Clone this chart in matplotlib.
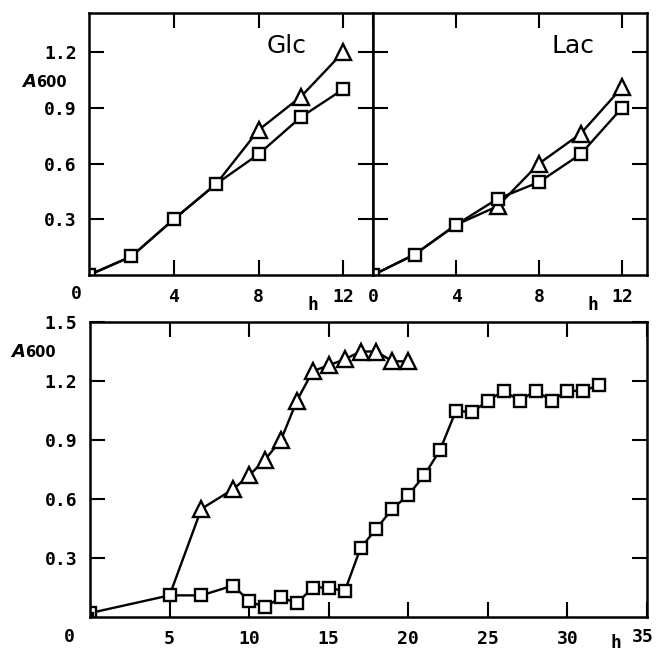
import matplotlib
matplotlib.use('Agg')
import matplotlib.pyplot as plt

# top panels, growth on glucose / lactose
glc_h = [0, 2, 4, 6, 8, 10, 12]
glc_sq = [0.0, 0.10, 0.30, 0.49, 0.65, 0.85, 1.00]
glc_tri = [0.0, 0.10, 0.30, 0.49, 0.78, 0.96, 1.20]

lac_h = [0, 2, 4, 6, 8, 10, 12]
lac_sq = [0.0, 0.11, 0.27, 0.41, 0.50, 0.65, 0.90]
lac_tri = [0.0, 0.11, 0.27, 0.37, 0.60, 0.76, 1.01]

# bottom panel, long culture
sq_h = [0, 5, 7, 9, 10, 11, 12, 13, 14, 15, 16, 17, 18, 19, 20, 21, 22, 23,
        24, 25, 26, 27, 28, 29, 30, 31, 32]
sq_a = [0.02, 0.11, 0.11, 0.16, 0.08, 0.05, 0.10, 0.07, 0.15, 0.15, 0.13, 0.35,
        0.45, 0.55, 0.62, 0.72, 0.85, 1.05, 1.04, 1.10, 1.15, 1.10, 1.15, 1.10,
        1.15, 1.15, 1.18]
tri_h = [5, 7, 9, 10, 11, 12, 13, 14, 15, 16, 17, 18, 19, 20]
tri_a = [0.11, 0.55, 0.65, 0.72, 0.80, 0.90, 1.10, 1.25, 1.28, 1.31, 1.35,
         1.35, 1.30, 1.30]

W, H = 656, 654
TICKFONT = dict(family='DejaVu Sans Mono', weight='bold', size=13)

fig = plt.figure(figsize=(W / 100, H / 100), dpi=100)


def px_axes(x0, y0, x1, y1):
    return fig.add_axes([x0 / W, 1 - y1 / H, (x1 - x0) / W, (y1 - y0) / H])


def style(ax):
    for s in ax.spines.values():
        s.set_linewidth(1.8)
    ax.tick_params(direction='in', length=11, width=1.5, top=True, right=True,
                   pad=9)
    for lab in ax.get_xticklabels() + ax.get_yticklabels():
        lab.set_fontproperties(matplotlib.font_manager.FontProperties(**TICKFONT))


def curve(ax, x, y, marker, ms, every=None):
    ax.plot(x, y, color='black', lw=1.7, marker=marker, ms=ms, mfc='white',
            mec='black', mew=1.7, markevery=every)


def ptext(x, y, s, **kw):
    fig.text(x / W, 1 - y / H, s, **kw)


# top left - Glc
ax1 = px_axes(89, 13, 373, 275)
curve(ax1, glc_h, glc_tri, '^', 11, slice(4, None))
curve(ax1, glc_h, glc_sq, 's', 9)
ax1.set_xlim(0, 13.4)
ax1.set_ylim(0, 1.41)
ax1.set_xticks([4, 8, 12])
ax1.set_yticks([0.3, 0.6, 0.9, 1.2])
ax1.set_yticklabels(['0.3', '0.6', '0.9', '1.2'])
style(ax1)

# top right - Lac
ax2 = px_axes(373, 13, 647, 275)
curve(ax2, lac_h, lac_tri, '^', 11, slice(3, None))
curve(ax2, lac_h, lac_sq, 's', 9)
ax2.set_xlim(0, 13.2)
ax2.set_ylim(0, 1.41)
ax2.set_xticks([0, 4, 8, 12])
ax2.set_yticks([0.3, 0.6, 0.9, 1.2])
ax2.set_yticklabels([])
style(ax2)

# bottom
ax3 = px_axes(90, 322, 647, 617)
curve(ax3, tri_h, tri_a, '^', 11, slice(1, None))
curve(ax3, sq_h, sq_a, 's', 9)
ax3.plot([0], [0.01], marker='s', ms=5, color='black')
ax3.set_xlim(0, 35)
ax3.set_ylim(0, 1.5)
ax3.set_xticks([5, 10, 15, 20, 25, 30, 35])
ax3.set_xticklabels(['5', '10', '15', '20', '25', '30', ''])
ax3.set_yticks([0.3, 0.6, 0.9, 1.2, 1.5])
ax3.set_yticklabels(['0.3', '0.6', '0.9', '1.2', '1.5'])
style(ax3)

# corner zeros, axis names
ptext(76, 294, '0', ha='center', va='center', **TICKFONT)
ptext(69, 637, '0', ha='center', va='center', **TICKFONT)
ptext(643, 637, '35', ha='center', va='center', **TICKFONT)
ptext(313, 305, 'h', ha='center', va='center', **TICKFONT)
ptext(593, 305, 'h', ha='center', va='center', **TICKFONT)
ptext(616, 643, 'h', ha='center', va='center', **TICKFONT)

for x, y in [(22, 87), (11, 357)]:
    ptext(x, y, 'A', ha='left', va='baseline', family='DejaVu Sans',
          style='italic', weight='bold', size=13)
    ptext(x + 14, y, '600', ha='left', va='baseline', family='DejaVu Sans',
          weight='bold', size=10.5)

ptext(267, 53, 'Glc', ha='left', va='baseline', family='DejaVu Sans', size=18)
ptext(551, 53, 'Lac', ha='left', va='baseline', family='DejaVu Sans', size=18)

fig.savefig('out.png', dpi=100)
